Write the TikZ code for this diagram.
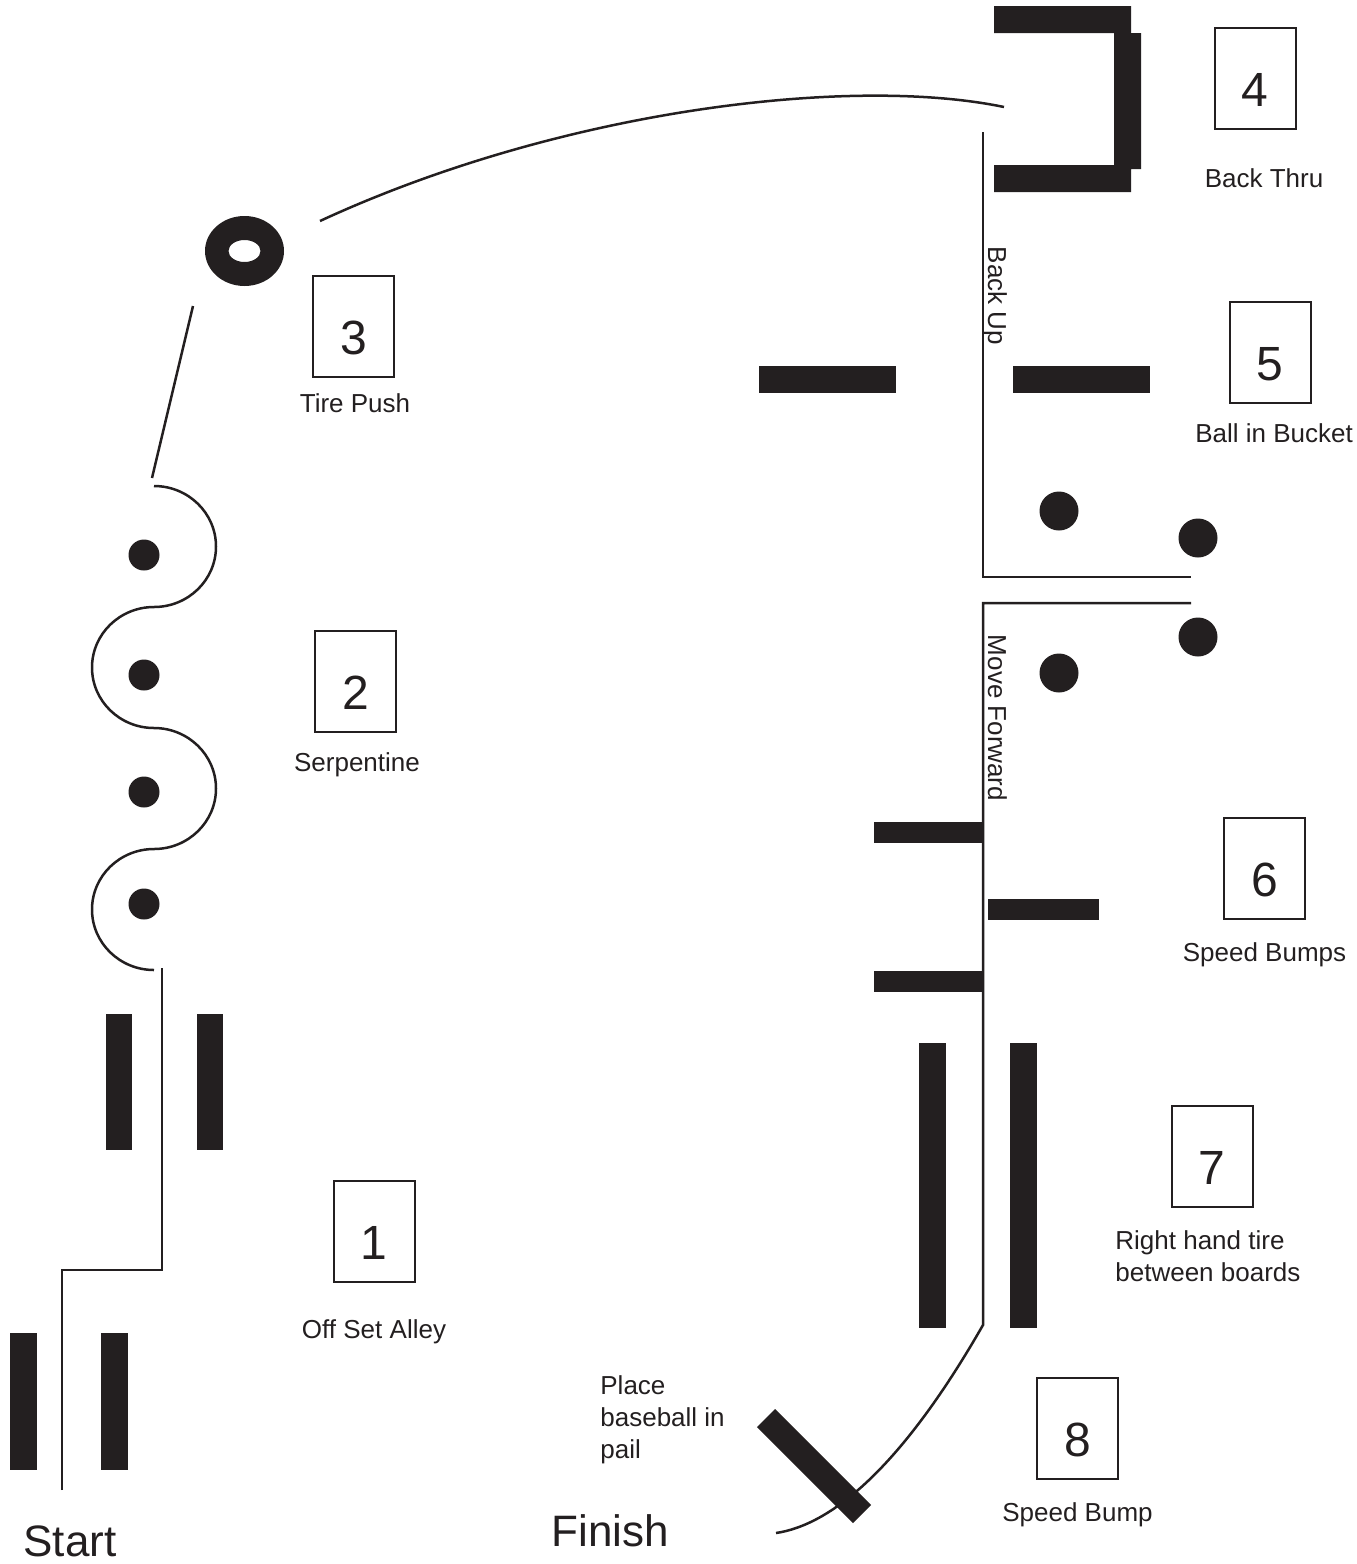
\documentclass[tikz,border=0pt]{standalone}
\usepackage{fontspec}
\setmainfont{Liberation Sans}
\usetikzlibrary{positioning}
\definecolor{ink}{RGB}{35,31,32}

\begin{document}
\begin{tikzpicture}[
				x=0.5pt, y=-0.5pt,
				station/.style={rectangle, draw=ink, line width=1pt, minimum width=40.5pt, minimum height=50.5pt, inner sep=0pt, text height=28pt, text depth=0pt, text=ink, font=\fontsize{24}{28}\selectfont},
				caption/.style={anchor=base, inner sep=0pt, text=ink, font=\fontsize{13}{16}\selectfont},
				big/.style={inner sep=0pt, text=ink, font=\fontsize{22}{26}\selectfont},
				course/.style={draw=ink, line width=1.25pt},
				board/.style={fill=ink},
				cone/.style={fill=ink}
				]
			\useasboundingbox (0,0) rectangle (1356,1564);

			% stations
			\node [station] (s1) at (374,1231) {1};
			\node [station] (s2) at (355.5,681.5) {2};
			\node [station] (s3) at (353.5,326.5) {3};
			\node [station] (s4) at (1255,78.5) {4};
			\node [station] (s5) at (1270,352.5) {5};
			\node [station] (s6) at (1264.5,868) {6};
			\node [station] (s7) at (1212,1156) {7};
			\node [station] (s8) at (1077.5,1428) {8};

			\node [caption] (c1) at ([yshift=-28pt]s1.south) {Off Set Alley};
			\node [caption] (c2) at ([xshift=0.75pt, yshift=-19pt]s2.south) {Serpentine};
			\node [caption] (c3) at ([xshift=0.75pt, yshift=-17pt]s3.south) {Tire Push};
			\node [caption] (c4) at ([xshift=4.5pt, yshift=-28.5pt]s4.south) {Back Thru};
			\node [caption] (c5) at ([xshift=2pt, yshift=-19pt]s5.south) {Ball in Bucket};
			\node [caption] (c6) at ([yshift=-21pt]s6.south) {Speed Bumps};
			% base of a two-line node is its last line
			\node [caption, anchor=base west, align=left] (c7) at ([xshift=-48.5pt, yshift=-37pt]s7.south) {Right hand tire\\between boards};
			\node [caption] (c8) at ([yshift=-21pt]s8.south) {Speed Bump};

			\node [caption, anchor=base west, align=left] (pail) at (600,1458) {Place\\baseball in\\pail};
			\node [big] (start) at (70,1541) {Start};
			\node [big] (finish) at (610.5,1531) {Finish};
			\node [caption, rotate=-90] (backup) at (988,296) {Back Up};
			\node [caption, rotate=-90] (forward) at (988,718) {Move Forward};

			% course line
			\draw [course] (62,1490) -- (62,1270) -- (162,1270) -- (162,968);
			\draw [course] (154,486)
				arc [start angle=90, end angle=-90, x radius=31pt, y radius=30.25pt]
				arc [start angle=90, end angle=270, x radius=31pt, y radius=30.25pt]
				arc [start angle=90, end angle=-90, x radius=31pt, y radius=30.25pt]
				arc [start angle=90, end angle=270, x radius=31pt, y radius=30.25pt];
			\draw [course] (152,478) -- (193,306);
			\draw [course] (320,221) .. controls (560,110) and (850,75) .. (1004,107);
			\draw [course] (983,132) -- (983,577) -- (1191,577);
			\draw [course] (1191,603) -- (983,603) -- (983,1325) .. controls (900,1470) and (830,1525) .. (776,1533);

			% tire
			\fill [ink, even odd rule] (244.5,251) ellipse [x radius=19.75pt, y radius=17.5pt]
				(244.5,251) ellipse [x radius=8pt, y radius=5.5pt];

			% back thru bracket
			\fill [board] (994,6) -- (1131,6) -- (1131,33) -- (1141,33) -- (1141,169) -- (1131,169)
				-- (1131,192) -- (994,192) -- (994,165) -- (1114,165) -- (1114,33) -- (994,33) -- cycle;

			% boards
			\foreach \xa/\ya/\xb/\yb in {10/1333/37/1470, 101/1333/128/1470, 106/1014/132/1150, 197/1014/223/1150,
				759/366/896/393, 1013/366/1150/393, 874/822/983/843, 988/899/1099/920, 874/971/983/992,
				919/1043/946/1328, 1010/1043/1037/1328}
				\fill [board] (\xa,\ya) rectangle (\xb,\yb);
			\draw [ink, line width=12.75pt] (766,1418) -- (862,1514);

			% cones and balls
			\foreach \cx/\cy in {144/555, 144/675, 144/792, 144/904}
				\fill [cone] (\cx,\cy) circle [radius=7.75pt];
			\foreach \cx/\cy in {1059/511, 1198/538, 1198/637, 1059/673}
				\fill [cone] (\cx,\cy) circle [radius=9.75pt];
			\end{tikzpicture}
\end{document}
